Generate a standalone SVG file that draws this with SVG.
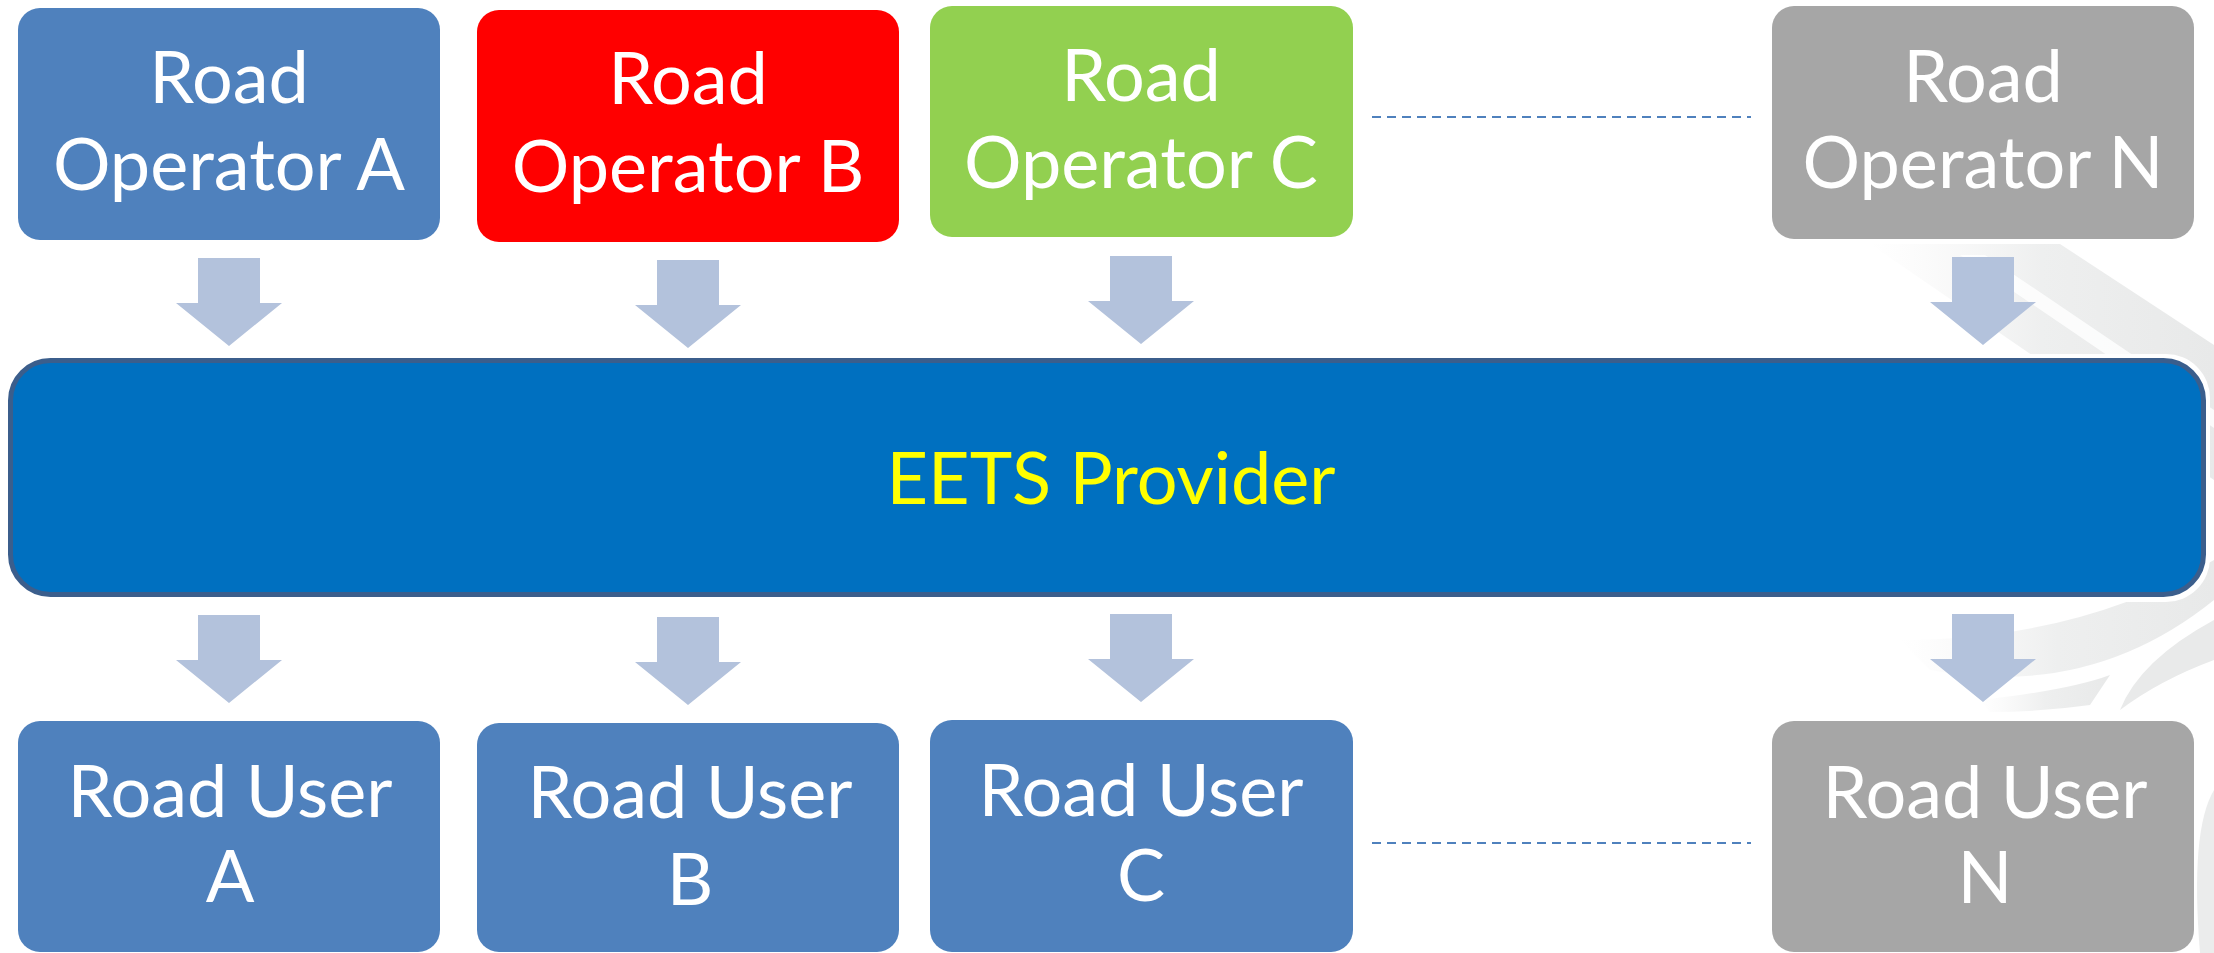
<svg xmlns="http://www.w3.org/2000/svg" width="2214" height="953" viewBox="0 0 2214 953">
<style>
.box{stroke:none}
.lbl{font-family:Lato,"Open Sans","Liberation Sans",sans-serif;font-size:72px;fill:#FFFFFF;text-anchor:middle}
.prov{font-family:Lato,"Open Sans","Liberation Sans",sans-serif;font-size:72px;fill:#FFFF00;text-anchor:middle}
.arrow{fill:#B3C2DC}
.dash{stroke:#4F81BD;stroke-width:2;stroke-dasharray:9 6;fill:none}
.bg{fill:#EDEEEE}
</style>
<defs>
<path id="arr" d="M-31,0 H31 V45 H53 L0,88 L-53,45 H-31 Z"/>
<linearGradient id="fade" x1="0" y1="0" x2="1" y2="0">
<stop offset="0" stop-color="#F4F4F4" stop-opacity="0"/>
<stop offset="0.5" stop-color="#EEEFEF"/>
<stop offset="1" stop-color="#E8E9E9"/>
</linearGradient>
</defs>
<rect width="2214" height="953" fill="#FFFFFF"/>
<g id="background">
<path fill="url(#fade)" d="M1870,244 L2060,244 L2214,345 L2214,480 Z"/>
<path fill="#FFFFFF" opacity="0.8" d="M1960,255 L1985,255 L2214,410 L2214,428 Z"/>
<path fill="url(#fade)" d="M1900,640 Q2080,640 2214,560 L2214,600 Q2090,700 1930,670 Z"/>
<path fill="url(#fade)" d="M1980,700 Q2070,690 2110,675 L2090,705 Q2040,712 1990,712 Z"/>
<path fill="#E9EAEA" d="M2214,620 Q2140,660 2120,710 Q2160,680 2214,660 Z"/>
<path fill="#EBECEC" d="M2214,790 Q2190,830 2200,953 L2214,953 Z"/>
</g>
<g id="node-ro-a"><rect class="box" x="18" y="8" width="422" height="232" rx="22" fill="#4F81BD"/><text class="lbl" x="229" y="103">Road</text><text class="lbl" x="229" y="190">Operator A</text></g>
<g id="node-ro-b"><rect class="box" x="477" y="10" width="422" height="232" rx="22" fill="#FF0000"/><text class="lbl" x="688" y="104">Road</text><text class="lbl" x="688" y="192">Operator B</text></g>
<g id="node-ro-c"><rect class="box" x="930" y="6" width="423" height="231" rx="22" fill="#92D050"/><text class="lbl" x="1141" y="101">Road</text><text class="lbl" x="1141" y="188">Operator C</text></g>
<g id="node-ro-n"><rect class="box" x="1772" y="6" width="422" height="233" rx="22" fill="#A6A6A6"/><text class="lbl" x="1983" y="102">Road</text><text class="lbl" x="1983" y="188">Operator N</text></g>
<g id="node-provider">
<rect x="18" y="370" width="406" height="229" rx="22" fill="#4F81BD"/>
<rect x="488" y="370" width="400" height="231" rx="22" fill="#FF0000"/>
<rect x="4" y="354" width="2206" height="248" rx="44" fill="#FFFFFF"/>
<rect x="10.5" y="360.5" width="2193" height="234" rx="40" fill="#0070C0" stroke="#3B5E8C" stroke-width="5"/>
<text class="prov" x="1111" y="504">EETS Provider</text>
</g>
<g id="node-ru-a"><rect class="box" x="18" y="721" width="422" height="231" rx="22" fill="#4F81BD"/><text class="lbl" x="230" y="817">Road User</text><text class="lbl" x="230" y="902">A</text></g>
<g id="node-ru-b"><rect class="box" x="477" y="723" width="422" height="229" rx="22" fill="#4F81BD"/><text class="lbl" x="690" y="818">Road User</text><text class="lbl" x="690" y="905">B</text></g>
<g id="node-ru-c"><rect class="box" x="930" y="720" width="423" height="232" rx="22" fill="#4F81BD"/><text class="lbl" x="1141" y="816">Road User</text><text class="lbl" x="1141" y="901">C</text></g>
<g id="node-ru-n"><rect class="box" x="1772" y="721" width="422" height="231" rx="22" fill="#A6A6A6"/><text class="lbl" x="1985" y="818">Road User</text><text class="lbl" x="1985" y="903">N</text></g>
<g id="connectors">
<use href="#arr" class="arrow" transform="translate(229,258)"/>
<use href="#arr" class="arrow" transform="translate(688,260)"/>
<use href="#arr" class="arrow" transform="translate(1141,256)"/>
<use href="#arr" class="arrow" transform="translate(1983,257)"/>
<use href="#arr" class="arrow" transform="translate(229,615)"/>
<use href="#arr" class="arrow" transform="translate(688,617)"/>
<use href="#arr" class="arrow" transform="translate(1141,614)"/>
<use href="#arr" class="arrow" transform="translate(1983,614)"/>
<line class="dash" x1="1372" y1="117" x2="1751" y2="117"/>
<line class="dash" x1="1372" y1="843" x2="1751" y2="843"/>
</g>
</svg>
